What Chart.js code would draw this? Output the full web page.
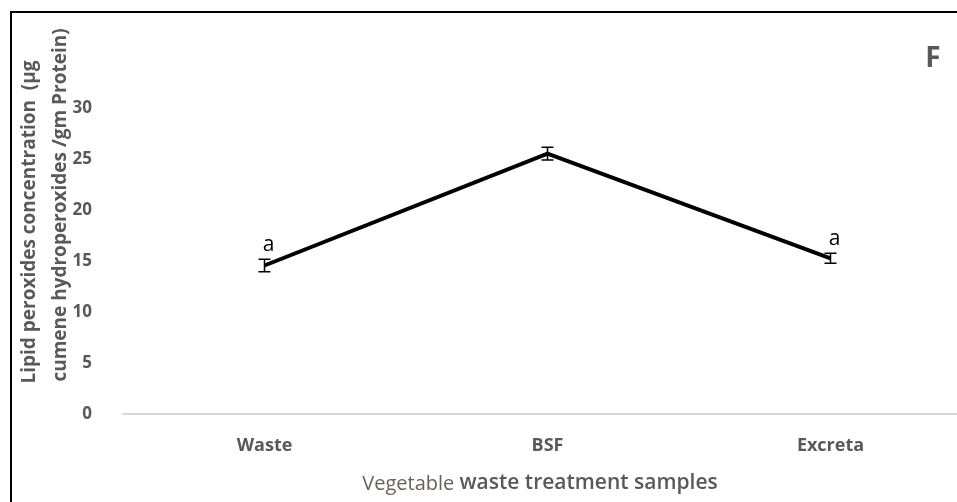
<!DOCTYPE html>
<html>
<head>
<meta charset="utf-8">
<script src="https://cdn.jsdelivr.net/npm/chart.js@4.4.0/dist/chart.umd.min.js"></script>
<style>
  html, body { margin: 0; padding: 0; background: #fff; }
  #wrap { width: 957px; height: 502px; position: relative; }
</style>
</head>
<body>
<div id="wrap"><canvas id="myChart" width="957" height="502"></canvas></div>
<script>
// chart data
const categories = ['Waste', 'BSF', 'Excreta'];
const meanValues = [14.56, 25.52, 15.26];
const errorValues = [0.61, 0.62, 0.49];
const sigLetters = ['a', '', 'a'];
const yTicks = [0, 5, 10, 15, 20, 25, 30];

const grey = '#595959';
const font = '"Open Sans", Lato, sans-serif';

// frame round the figure (left and top edges only are visible)
const framePlugin = {
  id: 'frame',
  beforeDraw(chart) {
    const c = chart.ctx;
    c.save();
    c.fillStyle = '#fff';
    c.fillRect(0, 0, chart.width, chart.height);
    c.strokeStyle = '#000';
    c.lineWidth = 2;
    c.beginPath();
    c.moveTo(11, chart.height);
    c.lineTo(11, 12);
    c.lineTo(chart.width, 12);
    c.stroke();
    c.restore();
  }
};

// error bars and significance letters
const errorBarPlugin = {
  id: 'errorBars',
  beforeDatasetsDraw(chart) {
    const c = chart.ctx;
    const xs = chart.scales.x, ys = chart.scales.y;
    c.save();
    c.strokeStyle = '#000';
    c.lineWidth = 1.5;
    meanValues.forEach((v, i) => {
      const px = xs.getPixelForValue(i);
      const top = ys.getPixelForValue(v + errorValues[i]);
      const bot = ys.getPixelForValue(v - errorValues[i]);
      c.beginPath();
      c.moveTo(px, top); c.lineTo(px, bot);
      c.moveTo(px - 6, top); c.lineTo(px + 6, top);
      c.moveTo(px - 6, bot); c.lineTo(px + 6, bot);
      c.stroke();
    });
    c.restore();
  },
  afterDatasetsDraw(chart) {
    const c = chart.ctx;
    const xs = chart.scales.x, ys = chart.scales.y;
    c.save();
    c.fillStyle = '#000';
    c.font = '21px ' + font;
    c.textAlign = 'center';
    c.textBaseline = 'middle';
    sigLetters.forEach((s, i) => {
      if (!s) return;
      const px = xs.getPixelForValue(i);
      const top = ys.getPixelForValue(meanValues[i] + errorValues[i]);
      c.fillText(s, px + 4, top - 14);
    });
    c.restore();
  }
};

// axis titles and panel letter
const labelsPlugin = {
  id: 'labels',
  afterDraw(chart) {
    const c = chart.ctx;
    const text = (s, x, y, f, rot, color) => {
      c.save();
      c.fillStyle = color || grey;
      c.font = f;
      c.textAlign = 'center';
      c.textBaseline = 'middle';
      c.translate(x, y);
      if (rot) c.rotate(-Math.PI / 2);
      c.fillText(s, 0, 0);
      c.restore();
    };
    text('Lipid peroxides concentration  (\u00b5g', 30, 222, 'bold 19px ' + font, true);
    text('cumene hydroperoxides /gm Protein)', 61, 205, 'bold 19px ' + font, true);
    text('F', 933, 59, 'bold 28px ' + font, false);

    // x axis title in two runs, as in the original
    const part1 = 'Vegetable ';
    const part2 = 'waste treatment samples';
    c.save();
    c.textBaseline = 'middle';
    c.textAlign = 'left';
    c.font = '20px ' + font;
    const w1 = c.measureText(part1).width;
    c.font = '600 21px ' + font;
    const w2 = c.measureText(part2).width;
    const x0 = 540 - (w1 + w2) / 2;
    c.font = '20px ' + font;
    c.fillStyle = '#6b6256';
    c.fillText(part1, x0, 484);
    c.font = '600 21px ' + font;
    c.fillStyle = grey;
    c.fillText(part2, x0 + w1, 483);
    c.restore();
  }
};

const ctx = document.getElementById('myChart').getContext('2d');

const myChart = new Chart(ctx, {
  type: 'line',
  data: {
    datasets: [{
      data: meanValues.map((v, i) => ({ x: i, y: v })),
      borderColor: '#000',
      borderWidth: 4,
      pointRadius: 0,
      tension: 0,
      fill: false
    }]
  },
  options: {
    responsive: false,
    animation: false,
    layout: { padding: { top: 108, right: 0, bottom: 0, left: 0 } },
    plugins: {
      legend: { display: false },
      tooltip: { enabled: false }
    },
    scales: {
      x: {
        type: 'linear',
        min: -0.5,
        max: 2.447,
        grid: { display: false },
        border: { display: true, color: '#d9d9d9', width: 2 },
        afterBuildTicks(scale) {
          scale.ticks = categories.map((c, i) => ({ value: i }));
        },
        afterFit(scale) { scale.height = 88; },
        ticks: {
          padding: 13,
          color: grey,
          font: { family: font, size: 18, weight: 'bold' },
          callback: (v) => categories[v]
        }
      },
      y: {
        min: 0,
        max: 30,
        grid: { display: false },
        border: { display: false },
        afterFit(scale) { scale.width = 123; },
        afterBuildTicks(scale) {
          scale.ticks = yTicks.map(v => ({ value: v }));
        },
        ticks: {
          padding: 23,
          color: grey,
          font: { family: font, size: 17, weight: 'bold' }
        }
      }
    }
  },
  plugins: [framePlugin, errorBarPlugin, labelsPlugin]
});
</script>
</body>
</html>
